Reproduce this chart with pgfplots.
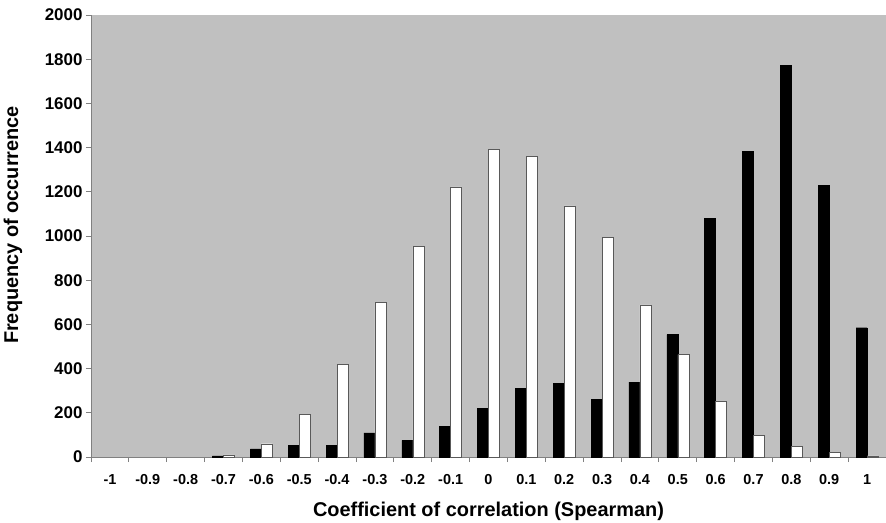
\documentclass[border=0pt]{standalone}
\usepackage{pgfplots}
\pgfplotsset{compat=1.18}
\usepackage{fontspec}
\setmainfont{Liberation Sans}
\definecolor{plotgray}{HTML}{C0C0C0}
\definecolor{axgray}{HTML}{808080}

\begin{document}
\begin{tikzpicture}
% fixed frame so the page has the reference's size
\path[use as bounding box] (-91bp,-66bp) rectangle (795bp,457bp);
\begin{axis}[
    scale only axis,
    width=795bp, height=442bp,
    axis background/.style={fill=plotgray},
    axis x line*=bottom, axis y line*=left,
    axis line style={axgray, line width=0.8pt},
    xmin=-0.5, xmax=20.5,
    ymin=0, ymax=2000,
    ytick={0,200,...,2000},
    xtick={0,...,20},
    xticklabels={-1,-0.9,-0.8,-0.7,-0.6,-0.5,-0.4,-0.3,-0.2,-0.1,0,0.1,0.2,0.3,0.4,0.5,0.6,0.7,0.8,0.9,1},
    minor xtick={-0.5,0.5,...,20.5},
    tick align=outside,
    major tick length=5bp,
    minor tick length=5bp,
    major x tick style={draw=none},
    every tick/.style={axgray, line width=0.8pt},
    minor x tick style={axgray, line width=0.8pt},
    yticklabel style={font=\bfseries\fontsize{17}{17}\selectfont,
        /pgf/number format/1000 sep={},
        /pgf/number format/assume math mode=true},
    xticklabel style={font=\bfseries\fontsize{14.5}{14.5}\selectfont, yshift=-9bp},
    xlabel={Coefficient of correlation (Spearman)},
    ylabel={Frequency of occurrence},
    xlabel style={font=\bfseries\fontsize{20}{20}\selectfont,
        at={(axis description cs:0.5,0)}, anchor=base, yshift=-59bp},
    ylabel style={font=\bfseries\fontsize{20}{20}\selectfont,
        at={(axis description cs:-0.098,0.525)}, anchor=center},
]
% black bars (-1 to -0.8 are empty)
\addplot[ybar, bar width=11bp, bar shift=-5.5bp, fill=black, draw=black] coordinates {
    (3,5) (4,37) (5,54) (6,53) (7,109) (8,75) (9,139)
    (10,219) (11,312) (12,332) (13,260) (14,339) (15,554) (16,1081)
    (17,1383) (18,1772) (19,1229) (20,585)
};
% white bars
\addplot[ybar, bar width=11bp, bar shift=5.5bp, fill=white, draw=black!65] coordinates {
    (3,10) (4,60) (5,194) (6,418) (7,699) (8,953) (9,1222)
    (10,1391) (11,1361) (12,1136) (13,993) (14,688) (15,463) (16,252)
    (17,98) (18,48) (19,20) (20,5)
};
\end{axis}
\end{tikzpicture}
\end{document}
